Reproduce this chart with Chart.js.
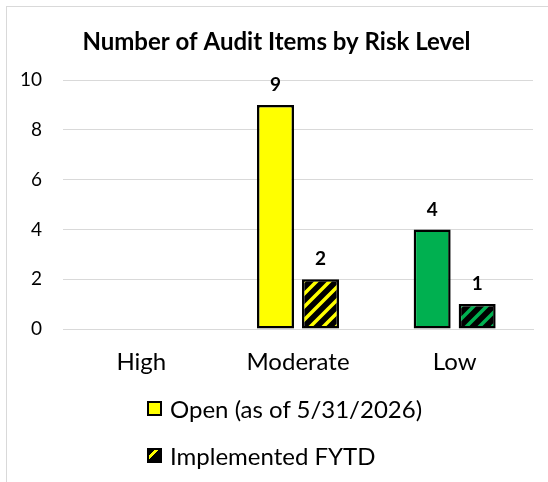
<!DOCTYPE html>
<html>
<head>
  <title>Number of Audit Items by Risk Level</title>
  <script src="https://cdn.jsdelivr.net/npm/chart.js"></script>
  <style>
    body {
      margin: 0;
      background: #fff;
      font-family: Lato, sans-serif;
      overflow: hidden;
    }
    .frame {
      position: absolute;
      left: 6px;
      top: 6px;
      width: 600px;
      height: 600px;
      border: 1px solid #d9d9d9;
    }
    .chart-box {
      position: absolute;
      left: 0;
      top: 0;
      width: 548px;
      height: 390px;
    }
    .legend {
      position: absolute;
      left: 147px;
      top: 385px;
    }
    .legend-item {
      display: flex;
      align-items: center;
      height: 47px;
      font-size: 24px;
      color: #000;
    }
    .swatch {
      width: 15px;
      height: 15px;
      box-sizing: border-box;
      border: 2px solid #000;
      margin-right: 8px;
    }
  </style>
</head>
<body>

  <div class="frame"></div>

  <div class="chart-box">
    <canvas id="riskChart"></canvas>
  </div>

  <div class="legend" id="legend"></div>

  <script>
    const riskLevels = ['High', 'Moderate', 'Low'];
    const openItems = [null, 9, 4];
    const implementedItems = [null, 2, 1];
    const seriesNames = ['Open (as of 5/31/2026)', 'Implemented FYTD'];
    const barColors = ['#FFFF00', '#FFFF00', '#00B050'];
    const yTicks = [0, 2, 4, 6, 8, 10];

    // black tile with a coloured "/" stripe
    function stripes(color) {
      const size = 13;
      const c = document.createElement('canvas');
      c.width = size;
      c.height = size;
      const p = c.getContext('2d');
      p.fillStyle = '#000';
      p.fillRect(0, 0, size, size);
      p.strokeStyle = color;
      p.lineWidth = 3.5;
      p.beginPath();
      p.moveTo(-3, size + 3); p.lineTo(size + 3, -3);
      p.moveTo(-3, 3); p.lineTo(3, -3);
      p.moveTo(size - 3, size + 3); p.lineTo(size + 3, size - 3);
      p.stroke();
      return p.createPattern(c, 'repeat');
    }

    // value labels above the bars
    const valueLabels = {
      id: 'valueLabels',
      afterDatasetsDraw(chart) {
        const ctx = chart.ctx;
        ctx.save();
        ctx.font = 'bold 19px Lato';
        ctx.fillStyle = '#000';
        ctx.textAlign = 'center';
        ctx.textBaseline = 'middle';
        chart.data.datasets.forEach((ds, i) => {
          chart.getDatasetMeta(i).data.forEach((bar, j) => {
            const v = ds.data[j];
            if (v === null || v === undefined) return;
            ctx.fillText(v, bar.x, bar.y - 20);
          });
        });
        ctx.restore();
      }
    };

    const ctx = document.getElementById('riskChart').getContext('2d');
    new Chart(ctx, {
      type: 'bar',
      data: {
        labels: riskLevels,
        datasets: [
          {
            label: seriesNames[0],
            data: openItems,
            backgroundColor: barColors,
            borderColor: '#000',
            borderWidth: 2.5,
            borderSkipped: false
          },
          {
            label: seriesNames[1],
            data: implementedItems,
            backgroundColor: barColors.map(stripes),
            borderColor: '#000',
            borderWidth: 2.5,
            borderSkipped: false
          }
        ]
      },
      options: {
        responsive: true,
        maintainAspectRatio: false,
        animation: false,
        categoryPercentage: 0.5745,
        barPercentage: 0.822,
        layout: {
          padding: { top: 0, left: 20, right: 15, bottom: 11 }
        },
        plugins: {
          legend: { display: false },
          tooltip: { enabled: false },
          title: {
            display: true,
            text: 'Number of Audit Items by Risk Level',
            color: '#000',
            font: { family: 'Lato', size: 24, weight: 'bold' },
            padding: { top: 27.6, bottom: 23.6 }
          }
        },
        scales: {
          x: {
            grid: { display: false, drawTicks: false },
            border: { color: '#d9d9d9' },
            ticks: {
              color: '#000',
              font: { family: 'Lato', size: 24 },
              padding: 19
            },
            afterFit(scale) { scale.height = 50; }
          },
          y: {
            min: 0,
            max: 10,
            afterBuildTicks(scale) {
              scale.ticks = yTicks.map(v => ({ value: v }));
            },
            grid: { color: '#d9d9d9', drawTicks: false },
            border: { display: false },
            ticks: {
              color: '#000',
              font: { family: 'Lato', size: 19 },
              padding: 21
            },
            afterFit(scale) { scale.width = 43; }
          }
        }
      },
      plugins: [valueLabels]
    });

    // legend below the chart, one entry per line
    const legend = document.getElementById('legend');
    seriesNames.forEach((name, i) => {
      const row = document.createElement('div');
      row.className = 'legend-item';
      const box = document.createElement('span');
      box.className = 'swatch';
      box.style.background = i === 0
        ? barColors[0]
        : 'repeating-linear-gradient(135deg, #000 0 4px, ' + barColors[0] + ' 4px 7px, #000 7px 11px)';
      row.appendChild(box);
      row.appendChild(document.createTextNode(name));
      legend.appendChild(row);
    });
  </script>

</body>
</html>
